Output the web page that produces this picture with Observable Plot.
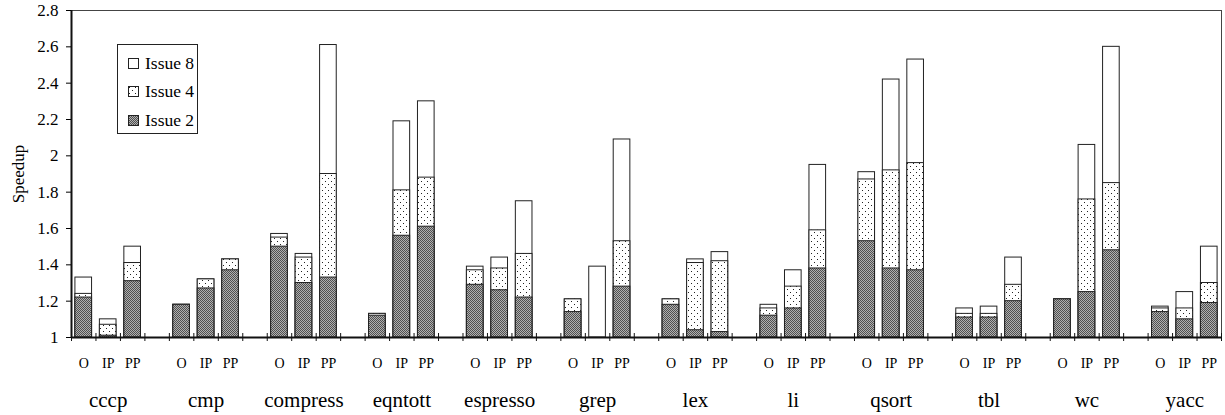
<!DOCTYPE html>
<html>
<head>
<meta charset="utf-8">
<script src="https://cdn.jsdelivr.net/npm/d3@7"></script>
<script src="https://cdn.jsdelivr.net/npm/@observablehq/plot@0.6"></script>
<style>
  body { margin: 0; background: #fff; }
  #wrap { position: relative; width: 1225px; height: 415px; font-family: "Liberation Serif", "Times New Roman", serif; }
  #legend { position: absolute; left: 117px; top: 44px; width: 79px; height: 88px; border: 1px solid #222; background: #fff; }
  .lrow { position: absolute; left: 10px; height: 20px; display: flex; align-items: center; font-size: 17.5px; color: #000; }
  .lrow svg { margin-right: 6px; }
</style>
</head>
<body>
<div id="wrap"></div>
<script>
const benchmarks = ["cccp","cmp","compress","eqntott","espresso","grep","lex","li","qsort","tbl","wc","yacc"];
const configs = ["O","IP","PP"];
const seriesNames = ["Issue 8","Issue 4","Issue 2"];
const yTicks = [1,1.2,1.4,1.6,1.8,2,2.2,2.4,2.6,2.8];
// values per benchmark in order O, IP, PP
const issue2 = [1.22,1.01,1.31, 1.18,1.27,1.37, 1.50,1.30,1.33, 1.12,1.56,1.61, 1.29,1.26,1.22, 1.14,1.00,1.28,
                1.18,1.04,1.03, 1.12,1.16,1.38, 1.53,1.38,1.37, 1.11,1.11,1.20, 1.21,1.25,1.48, 1.14,1.10,1.19];
const issue4 = [1.24,1.07,1.41, 1.18,1.32,1.43, 1.55,1.44,1.90, 1.13,1.81,1.88, 1.37,1.38,1.46, 1.21,1.00,1.53,
                1.21,1.41,1.42, 1.16,1.28,1.59, 1.87,1.92,1.96, 1.13,1.13,1.29, 1.21,1.76,1.85, 1.16,1.16,1.30];
const issue8 = [1.33,1.10,1.50, 1.18,1.32,1.43, 1.57,1.46,2.61, 1.13,2.19,2.30, 1.39,1.44,1.75, 1.21,1.39,2.09,
                1.21,1.43,1.47, 1.18,1.37,1.95, 1.91,2.42,2.53, 1.16,1.17,1.44, 1.21,2.06,2.60, 1.17,1.25,1.50];

const slotsPerGroup = configs.length + 1;
const nSlots = benchmarks.length * slotsPerGroup - 1;
const rows = [];
benchmarks.forEach((b, g) => configs.forEach((c, j) => {
  const k = g * configs.length + j;
  rows.push({bench: b, config: c, slot: g * slotsPerGroup + j, v2: issue2[k], v4: issue4[k], v8: issue8[k]});
}));
const groups = benchmarks.map((b, g) => ({name: b, center: g * slotsPerGroup + configs.length / 2}));
const tickSlots = d3.range(nSlots + 1);

const fills = {"Issue 8": "white", "Issue 4": "url(#p4)", "Issue 2": "url(#p2)"};
const inset = 0.16;
const barOpts = (key) => ({x1: d => d.slot + inset, x2: d => d.slot + 1 - inset, y1: 1, y2: d => d[key], stroke: "#222", strokeWidth: 1});
const fmt = d => String(+d.toFixed(1));

const chart = Plot.plot({
  width: 1225, height: 415,
  marginLeft: 71, marginRight: 4, marginTop: 10, marginBottom: 78,
  style: {fontFamily: "Liberation Serif, Times New Roman, serif", background: "white", color: "#000"},
  x: {domain: [0, nSlots], axis: null},
  y: {domain: [1, 2.8], axis: null},
  marks: [
    Plot.frame({stroke: "#444", strokeWidth: 1}),
    Plot.rectY(rows, {...barOpts("v8"), fill: fills["Issue 8"]}),
    Plot.rectY(rows, {...barOpts("v4"), fill: fills["Issue 4"]}),
    Plot.rectY(rows, {...barOpts("v2"), fill: fills["Issue 2"]}),
    Plot.ruleX(tickSlots, {x: d => d, y1: 1, y2: 1, insetTop: -4, insetBottom: -4, stroke: "#111", strokeWidth: 1}),
    Plot.ruleY([1], {stroke: "#111", strokeWidth: 2}),
    Plot.ruleX([0], {stroke: "#111", strokeWidth: 2}),
    Plot.axisY({ticks: yTicks, tickFormat: fmt, tickSize: 5, tickPadding: 8, fontSize: 17,
      label: "Speedup", labelAnchor: "center", labelArrow: "none", labelOffset: 60}),
    Plot.text(rows, {x: d => d.slot + 0.5, y: 1, text: "config", dy: 26, fontSize: 14, fill: "#000"}),
    Plot.text(groups, {x: "center", y: 1, text: "name", dy: 63, fontSize: 21, fill: "#000"})
  ]
});

// patterns for fills
const ns = "http://www.w3.org/2000/svg";
const defs = document.createElementNS(ns, "defs");
defs.innerHTML = `
  <pattern id="p2" width="2" height="2" patternUnits="userSpaceOnUse">
    <rect width="2" height="2" fill="#b0b0b0"/>
    <rect x="0" y="0" width="1" height="1" fill="#505050"/>
    <rect x="1" y="1" width="1" height="1" fill="#505050"/>
  </pattern>
  <pattern id="p4" width="6" height="6" patternUnits="userSpaceOnUse">
    <rect width="6" height="6" fill="white"/>
    <rect x="1" y="1" width="1" height="1" fill="#222"/>
    <rect x="4" y="4" width="1" height="1" fill="#222"/>
  </pattern>`;
chart.insertBefore(defs, chart.firstChild);
chart.querySelectorAll("text").forEach(t => { if (t.textContent === "Speedup") t.setAttribute("font-size", "17"); });

const wrap = document.getElementById("wrap");
wrap.appendChild(chart);

// legend
const legend = document.createElement("div");
legend.id = "legend";
const rowTops = [8, 36, 65];
seriesNames.forEach((name, i) => {
  const r = document.createElement("div");
  r.className = "lrow";
  r.style.top = rowTops[i] + "px";
  r.innerHTML = `<svg width="11" height="11"><rect x="0.5" y="0.5" width="10" height="10" fill="${fills[name]}" stroke="#222"/></svg><span>${name}</span>`;
  legend.appendChild(r);
});
wrap.appendChild(legend);
</script>
</body>
</html>
